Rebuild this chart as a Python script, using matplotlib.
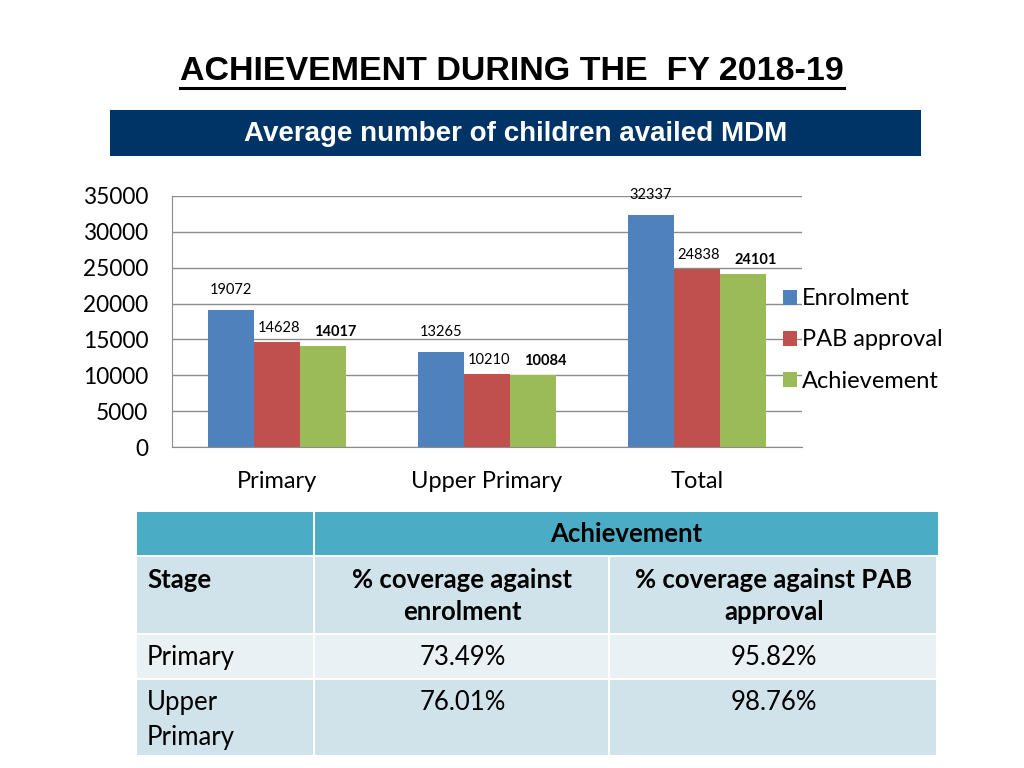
import matplotlib
matplotlib.use("Agg")
import matplotlib.pyplot as plt
from matplotlib.patches import Rectangle
import numpy as np

plt.rcParams['font.family'] = ['Lato', 'DejaVu Sans']

# -- Data
categories = ['Primary', 'Upper Primary', 'Total']
enrolment = [19072, 13265, 32337]
pab_approval = [14628, 10210, 24838]
achievement = [14017, 10084, 24101]
series_names = ['Enrolment', 'PAB approval', 'Achievement']
series_colors = ['#4F81BD', '#C0504D', '#9BBB59']

table_header = ['Stage', '% coverage against\nenrolment', '% coverage against PAB\napproval']
table_stages = ['Primary', 'Upper\nPrimary']
cov_enrolment = ['73.49%', '76.01%']
cov_pab = ['95.82%', '98.76%']

W, H = 1024, 768
fig = plt.figure(figsize=(W / 100, H / 100), dpi=100)

# overlay axes in pixel coordinates for title, banner, table
ov = fig.add_axes([0, 0, 1, 1])
ov.set_xlim(0, W)
ov.set_ylim(H, 0)
ov.axis('off')

arial = ['Liberation Sans', 'DejaVu Sans']
title = ov.text(512, 71, 'ACHIEVEMENT DURING THE  FY 2018-19', ha='center', va='center',
                fontsize=24.5, fontweight='bold', family=arial, color='black')

ov.add_patch(Rectangle((110, 110), 811, 46, facecolor='#003366', edgecolor='none'))
ov.text(516, 134, 'Average number of children availed MDM', ha='center', va='center',
        fontsize=20, fontweight='bold', family=arial, color='white')

# -- Bar chart
ax = fig.add_axes([172 / W, 1 - 447 / H, 630 / W, 251 / H])
x = np.arange(len(categories))
bw = 0.22
offsets = [(0, 20), (2, 14), (12, 14)]
weights = ['normal', 'normal', 'bold']
for i, (vals, name, col) in enumerate(zip([enrolment, pab_approval, achievement],
                                          series_names, series_colors)):
    xs = x + (i - 1) * bw
    ax.bar(xs, vals, width=bw, color=col, label=name, zorder=3)
    for xi, v in zip(xs, vals):
        ax.annotate(str(v), (xi, v), xytext=offsets[i], textcoords='offset pixels',
                    ha='center', va='center', fontsize=10.5, fontweight=weights[i])

ax.set_xlim(-0.5, 2.5)
ax.set_ylim(0, 35000)
ax.set_yticks(np.arange(0, 35001, 5000))
ax.set_xticks(x)
ax.set_xticklabels(categories, fontsize=17)
ax.tick_params(axis='y', labelsize=16.3, length=0, pad=17)
ax.tick_params(axis='x', length=0, pad=17)
ax.grid(axis='y', color='#8c8c8c', linewidth=1, zorder=0)
for s in ['top', 'right']:
    ax.spines[s].set_visible(False)
for s in ['left', 'bottom']:
    ax.spines[s].set_color('#8c8c8c')

fig.legend(loc='center left', bbox_to_anchor=(783 / W, 1 - 340 / H), frameon=False,
           fontsize=17, handlelength=0.6, handleheight=0.6, handletextpad=0.2,
           labelspacing=0.85, borderpad=0, borderaxespad=0)

# -- Table
col_x = [137, 315, 610, 938]
row_y = [512, 557, 635, 680, 757]
row_colors = ['#4BACC6', '#D0E3EA', '#E9F1F5', '#D0E3EA']
gap = 2
for r in range(4):
    for c in range(3):
        if r == 0 and c > 0:
            if c == 1:
                ov.add_patch(Rectangle((col_x[1], row_y[0]), col_x[3] - col_x[1],
                                       row_y[1] - row_y[0] - gap,
                                       facecolor=row_colors[0], edgecolor='none'))
            continue
        ov.add_patch(Rectangle((col_x[c], row_y[r]), col_x[c + 1] - col_x[c] - gap,
                               row_y[r + 1] - row_y[r] - gap,
                               facecolor=row_colors[r], edgecolor='none'))

tfs = 18.5
ov.text((col_x[1] + col_x[3]) / 2, 534, 'Achievement', ha='center', va='center',
        fontsize=tfs, fontweight='bold')
ov.text(147, 580, table_header[0], ha='left', va='center', fontsize=tfs, fontweight='bold')
ov.text((col_x[1] + col_x[2]) / 2, 596, table_header[1], ha='center', va='center',
        fontsize=tfs, fontweight='bold', linespacing=1.45)
ov.text((col_x[2] + col_x[3]) / 2, 596, table_header[2], ha='center', va='center',
        fontsize=tfs, fontweight='bold', linespacing=1.45)
row_tops = [645, 690]
for stage, ce, cp, yt in zip(table_stages, cov_enrolment, cov_pab, row_tops):
    ov.text(147, yt, stage, ha='left', va='top', fontsize=tfs, linespacing=1.5)
    ov.text((col_x[1] + col_x[2]) / 2, yt, ce, ha='center', va='top', fontsize=tfs)
    ov.text((col_x[2] + col_x[3]) / 2, yt, cp, ha='center', va='top', fontsize=tfs)

# underline for the title
fig.canvas.draw()
bb = title.get_window_extent().transformed(ov.transData.inverted())
ov.plot([bb.x0, bb.x1], [88, 88], color='black', linewidth=2.2)

fig.savefig('out.png', dpi=100)
